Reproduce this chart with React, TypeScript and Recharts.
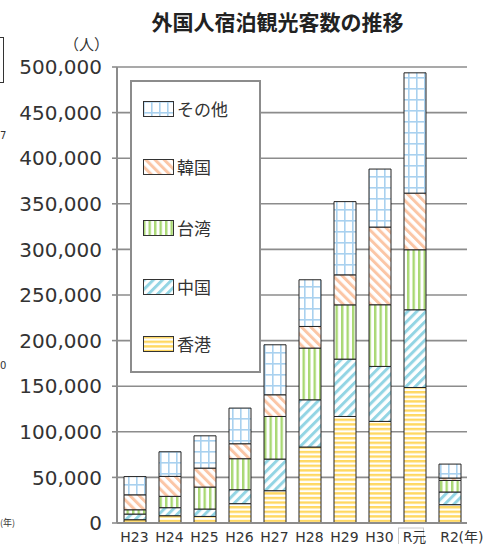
import { BarChart, Bar, XAxis, YAxis, CartesianGrid } from "recharts";

// 外国人宿泊観光客数の推移 (stacked, hatched bars)

const categories = ["H23", "H24", "H25", "H26", "H27", "H28", "H29", "H30", "R元", "R2"];
const hongkong = [3600, 8000, 7200, 21200, 35400, 83300, 116800, 111400, 148600, 20100];
const china = [6200, 8800, 8100, 15300, 34700, 51800, 62900, 60300, 85200, 13900];
const taiwan = [4700, 12400, 24100, 34000, 46700, 56700, 59500, 67600, 65800, 12700];
const korea = [16400, 21900, 20800, 16400, 23800, 23700, 32900, 85200, 62100, 2600];
const other = [20000, 27000, 35400, 39100, 54800, 51200, 80300, 63600, 131900, 15300];
const yTicks = [0, 50000, 100000, 150000, 200000, 250000, 300000, 350000, 400000, 450000, 500000];

const series = [
  { key: "hongkong", name: "香港", fill: "url(#pat-hk)" },
  { key: "china", name: "中国", fill: "url(#pat-cn)" },
  { key: "taiwan", name: "台湾", fill: "url(#pat-tw)" },
  { key: "korea", name: "韓国", fill: "url(#pat-kr)" },
  { key: "other", name: "その他", fill: "url(#pat-ot)" },
];

const data = categories.map((name, i) => ({
  name,
  hongkong: hongkong[i],
  china: china[i],
  taiwan: taiwan[i],
  korea: korea[i],
  other: other[i],
}));

const GRID = "#8c8c8c";
const TEXT = "#333";
const FONT = "'DejaVu Sans', 'Noto Sans CJK JP', sans-serif";
const JP = "'Noto Sans CJK JP', sans-serif";

function Patterns() {
  return (
    <defs>
      <pattern id="pat-hk" width="6" height="4.6" patternUnits="userSpaceOnUse">
        <rect width="6" height="4.6" fill="#fff" />
        <rect width="6" height="2.4" fill="#ffd862" />
      </pattern>
      <pattern id="pat-cn" width="6.5" height="6.5" patternUnits="userSpaceOnUse" patternTransform="rotate(45)">
        <rect width="6.5" height="6.5" fill="#fff" />
        <rect width="3" height="6.5" fill="#93d5e4" />
      </pattern>
      <pattern id="pat-tw" width="5.5" height="6" patternUnits="userSpaceOnUse">
        <rect width="5.5" height="6" fill="#fff" />
        <rect width="2.4" height="6" fill="#a9d873" />
      </pattern>
      <pattern id="pat-kr" width="6.5" height="6.5" patternUnits="userSpaceOnUse" patternTransform="rotate(-45)">
        <rect width="6.5" height="6.5" fill="#fff" />
        <rect width="3" height="6.5" fill="#fbc6a6" />
      </pattern>
      <pattern id="pat-ot" width="8" height="11" patternUnits="userSpaceOnUse">
        <rect width="8" height="11" fill="#fff" />
        <rect width="1.6" height="11" fill="#a9d1ef" />
        <rect width="8" height="1.6" fill="#a9d1ef" />
      </pattern>
    </defs>
  );
}

function XTick(props: any) {
  const { x, y, payload } = props;
  const v = payload.value;
  return (
    <g>
      {v === "R元" && (
        <rect x={x - 16} y={y - 4} width={25} height={22} fill="none" stroke="#c8c8c8" strokeWidth={1} />
      )}
      <text x={x} y={y} dy="0.71em" textAnchor="middle" fontSize={14} fontFamily={FONT} fill={TEXT}>
        {v}
      </text>
      {v === "R2" && (
        <text x={x + 9} y={y} dy="0.71em" textAnchor="start" fontSize={14} fontFamily={FONT} fill={TEXT}>
          (年)
        </text>
      )}
    </g>
  );
}

function LegendBox() {
  const items = [...series].reverse();
  const tops = [101, 159, 220, 279, 336];
  return (
    <div
      style={{
        position: "absolute",
        left: 130,
        top: 80,
        width: 127,
        height: 289,
        border: `2px solid ${GRID}`,
        background: "#fff",
      }}
    >
      {items.map((s, i) => (
        <div key={s.key} style={{ position: "absolute", left: 11, top: tops[i] - 82, display: "flex", alignItems: "center" }}>
          <svg width={31} height={16} style={{ display: "block" }}>
            <rect x={0.5} y={0.5} width={30} height={15} fill={s.fill} stroke="#333" strokeWidth={1} />
          </svg>
          <span style={{ marginLeft: 3, fontSize: 17, fontFamily: JP, color: TEXT, lineHeight: "16px" }}>{s.name}</span>
        </div>
      ))}
    </div>
  );
}

export default function App() {
  return (
    <div style={{ position: "absolute", left: 0, top: 0, width: 492, height: 544, background: "#fff", overflow: "hidden" }}>
      <BarChart
        width={492}
        height={544}
        data={data}
        margin={{ top: 67, right: 25, left: 0, bottom: 0 }}
        barSize={22}
      >
        <Patterns />
        <CartesianGrid vertical={false} stroke={GRID} strokeWidth={1.6} />
        <XAxis
          dataKey="name"
          height={21}
          axisLine={{ stroke: GRID, strokeWidth: 2 }}
          tickLine={false}
          tickSize={3}
          tickMargin={6}
          tick={<XTick />}
          interval={0}
        />
        <YAxis
          width={117}
          domain={[0, 500000]}
          ticks={yTicks}
          interval={0}
          axisLine={{ stroke: GRID, strokeWidth: 2 }}
          tickLine={{ stroke: GRID, strokeWidth: 1.6 }}
          tickSize={5}
          tickMargin={10}
          tickFormatter={(v: number) => v.toLocaleString("en-US")}
          tick={{ fontSize: 20, fill: TEXT, fontFamily: FONT }}
        />
        <YAxis yAxisId="right" orientation="right" width={0} tick={false} tickLine={false} axisLine={{ stroke: GRID, strokeWidth: 2 }} />
        {series.map((s) => (
          <Bar
            key={s.key}
            dataKey={s.key}
            name={s.name}
            stackId="a"
            fill={s.fill}
            stroke="#222"
            strokeWidth={1}
            isAnimationActive={false}
          />
        ))}
      </BarChart>

      <div
        style={{
          position: "absolute",
          left: 0,
          width: 555,
          top: 7,
          textAlign: "center",
          fontSize: 21,
          fontWeight: "bold",
          fontFamily: JP,
          color: "#222",
          lineHeight: "28px",
        }}
      >
        外国人宿泊観光客数の推移
      </div>
      <div style={{ position: "absolute", left: 64, top: 35, fontSize: 15, fontFamily: JP, color: TEXT, lineHeight: "18px" }}>
        （人）
      </div>
      <LegendBox />

      {/* bits of the neighbouring chart at the left edge */}
      <div style={{ position: "absolute", left: -14, top: 37, width: 16, height: 44, border: "1.5px solid #333" }} />
      <div style={{ position: "absolute", left: 0, top: 130, fontSize: 10, fontFamily: FONT, color: TEXT, lineHeight: "12px" }}>7</div>
      <div style={{ position: "absolute", left: 0, top: 360, fontSize: 10, fontFamily: FONT, color: TEXT, lineHeight: "12px" }}>0</div>
      <div style={{ position: "absolute", left: 0, top: 517, fontSize: 9, fontFamily: JP, color: TEXT, lineHeight: "12px" }}>(年)</div>
    </div>
  );
}
